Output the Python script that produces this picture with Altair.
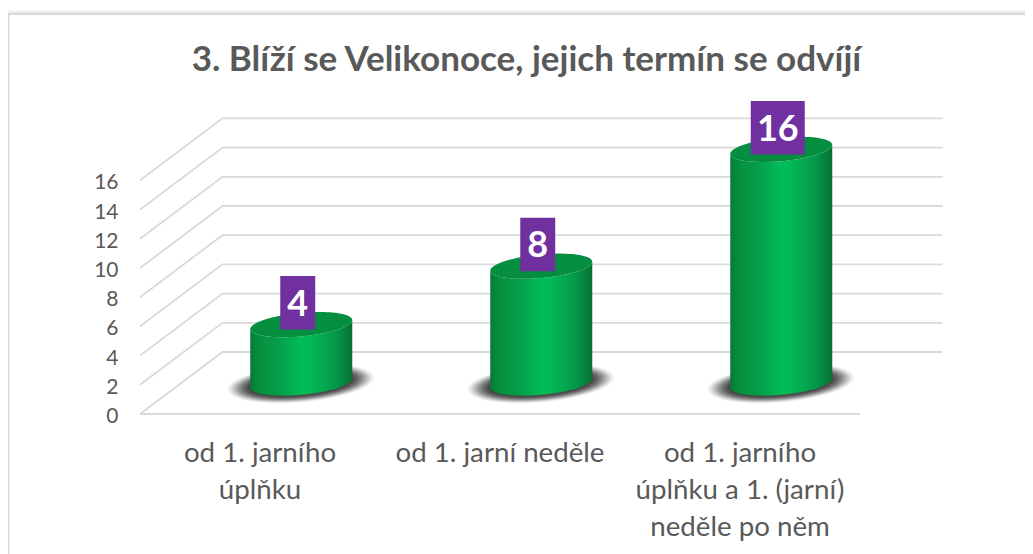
import math
import altair as alt
import pandas as pd

categories = ["od 1. jarního\núplňku", "od 1. jarní neděle", "od 1. jarního\núplňku a 1. (jarní)\nneděle po něm"]
values = [4, 8, 16]
ticks = [0, 2, 4, 6, 8, 10, 12, 14, 16]
title_text = "3. Blíží se Velikonoce, jejich termín se odvíjí"

W, H = 1017, 546
PX_X, PX_Y = 240.0, 14.6      # pixels per category / per value unit
X0, Y0 = 132.0, 406.0         # chart pixel position of the origin
DX, DY = 82.5 / PX_X, 62.0 / PX_Y  # depth offset at the back wall
xs = alt.Scale(domain=[-X0 / PX_X, (W - X0) / PX_X], range=[0, W], nice=False, zero=False)
ys = alt.Scale(domain=[(H - Y0) / -PX_Y, Y0 / PX_Y], range=[H, 0], nice=False, zero=False)
X = lambda f: alt.X(f, type="quantitative", scale=xs, axis=None)
Y = lambda f: alt.Y(f, type="quantitative", scale=ys, axis=None)
FONT = "Lato"
TXT = "#595959"
GRID = "#D9D9D9"
N = len(categories)

# grid: left wall + back wall
grid_rows = []
for v in ticks:
    grid_rows += [dict(g=v, o=0, x=0, y=v), dict(g=v, o=1, x=DX, y=v + DY), dict(g=v, o=2, x=N + DX, y=v + DY)]
grid_rows += [dict(g=-1, o=0, x=0, y=0), dict(g=-1, o=1, x=N, y=0)]
grid = alt.Chart(pd.DataFrame(grid_rows)).mark_line(color=GRID, strokeWidth=1.8).encode(
    x=X("x"), y=Y("y"), detail="g:N", order="o:Q")


def arcs(cat, v, a, b, s, dxpx=0.0, dypx=0.0, steps=48):
    """front/back arcs of a sheared ellipse centred mid-depth on category cat at value v"""
    cx = cat + 0.5 + DX / 2 + dxpx / PX_X
    cy = v + DY / 2 + dypx / PX_Y
    rows = []
    for i in range(steps + 1):
        t = math.pi - math.pi * i / steps
        c, r = math.cos(t), math.sin(t)
        rows.append((cx + a * c / PX_X, cy + (s * c + b * r) / PX_Y, cy + (s * c - b * r) / PX_Y))
    return rows


A, B, S = 51.0, 11.8, 4.5

# soft shadows below the cylinders
shadow_rows = []
LAYERS = 16
for k in range(LAYERS):
    f = k / (LAYERS - 1)
    for ci in range(N):
        for x, up, lo in arcs(ci, 0, 74 - 22 * f, 19 - 6.5 * f, 6 - 1.5 * f, dxpx=-0.5, dypx=-0.5):
            shadow_rows.append(dict(g=f"{k:02d}-{ci}", k=k, x=x, up=up, lo=lo))
shadow_layers = [
    alt.Chart(pd.DataFrame([r for r in shadow_rows if r["k"] == k])).mark_area(
        color="#303030", opacity=0.03 + 0.012 * k, interpolate="linear"
    ).encode(x=X("x"), y=Y("up"), y2=alt.Y2("lo"), detail="g:N")
    for k in range(LAYERS)
]

# cylinder bodies and tops
body_rows, top_rows = [], []
for ci, v in enumerate(values):
    base = arcs(ci, 0, A, B, S)
    head = arcs(ci, v, A, B, S)
    for (x, _, blo), (_, _, tlo) in zip(base, head):
        body_rows.append(dict(g=ci, x=x, y=tlo, y2=blo))
    for x, up, lo in head:
        top_rows.append(dict(g=ci, x=x, y=up, y2=lo))

body_grad = alt.LinearGradient(gradient="linear", x1=0, x2=1, y1=0, y2=0, stops=[
    alt.GradientStop(color="#057A38", offset=0),
    alt.GradientStop(color="#06933F", offset=0.1),
    alt.GradientStop(color="#059A49", offset=0.25),
    alt.GradientStop(color="#02BC59", offset=0.5),
    alt.GradientStop(color="#02B856", offset=0.6),
    alt.GradientStop(color="#05964A", offset=0.85),
    alt.GradientStop(color="#06702F", offset=1),
])
body = alt.Chart(pd.DataFrame(body_rows)).mark_area(color=body_grad, interpolate="linear").encode(
    x=X("x"), y=Y("y"), y2=alt.Y2("y2"), detail="g:N")
top = alt.Chart(pd.DataFrame(top_rows)).mark_area(color="#058D40", interpolate="linear").encode(
    x=X("x"), y=Y("y"), y2=alt.Y2("y2"), detail="g:N")

# data labels
lab_rows = []
for ci, v in enumerate(values):
    w = 35.0 if v < 10 else 54.0
    cx = ci + 0.5 + DX / 2 - 3.5 / PX_X
    lo = v + DY / 2 - 5.0 / PX_Y
    hi = lo + 53.5 / PX_Y
    lab_rows.append(dict(x=cx - w / 2 / PX_X, x2=cx + w / 2 / PX_X, cx=cx, lo=lo, hi=hi, mid=(lo + hi) / 2, t=str(v)))
lab_df = pd.DataFrame(lab_rows)
lab_box = alt.Chart(lab_df).mark_rect(color="#7030A0").encode(x=X("x"), x2=alt.X2("x2"), y=Y("lo"), y2=alt.Y2("hi"))
lab_txt = alt.Chart(lab_df).mark_text(font=FONT, fontWeight="bold", fontSize=36, color="#FFFFFF", dy=2,
                                      align="center", baseline="middle").encode(x=X("cx"), y=Y("mid"), text="t:N")

# value labels and category labels
tick_df = pd.DataFrame({"v": ticks, "x": [-21.5 / PX_X] * len(ticks), "t": [str(t) for t in ticks]})
tick_txt = alt.Chart(tick_df).mark_text(font=FONT, fontSize=21, color=TXT, align="right", baseline="middle", dy=3).encode(
    x=X("x"), y=Y("v"), text="t:N")
cat_df = pd.DataFrame({"x": [i + 0.5 for i in range(N)], "y": [-22.0 / PX_Y] * N, "t": categories})
cat_txt = alt.Chart(cat_df).mark_text(font=FONT, fontSize=27.7, color=TXT, align="center", baseline="top", dy=4,
                                      lineBreak="\n", lineHeight=37).encode(x=X("x"), y=Y("y"), text="t:N")

one = pd.DataFrame({"a": [1]})
title = alt.Chart(pd.DataFrame({"t": [title_text]})).mark_text(
    font=FONT, fontWeight="bold", fontSize=35, color=TXT, align="center", baseline="middle"
).encode(x=alt.value(518.5), y=alt.value(52), text="t:N")

frame = [
    alt.Chart(one).mark_rule(color=c, strokeWidth=1).encode(x=alt.value(0), x2=alt.value(W), y=alt.value(yy))
    for c, yy in [("#F7F7F7", 2.5), ("#F1F1F1", 3.5), ("#E8E8E8", 4.5), ("#DDDDDD", 5.5), ("#D9D9D9", 6.5)]
] + [alt.Chart(one).mark_rule(color=GRID, strokeWidth=2).encode(x=alt.value(0.5), y=alt.value(6), y2=alt.value(H))]

chart = alt.layer(*frame, grid, *shadow_layers, body, top, lab_box, lab_txt, tick_txt, cat_txt, title).properties(
    width=W, height=H, padding=0, autosize=alt.AutoSizeParams(type="none"),
    background="#FFFFFF",
).configure_view(stroke=None)

chart.save("out.html", embed_options={"renderer": "svg", "actions": False})
